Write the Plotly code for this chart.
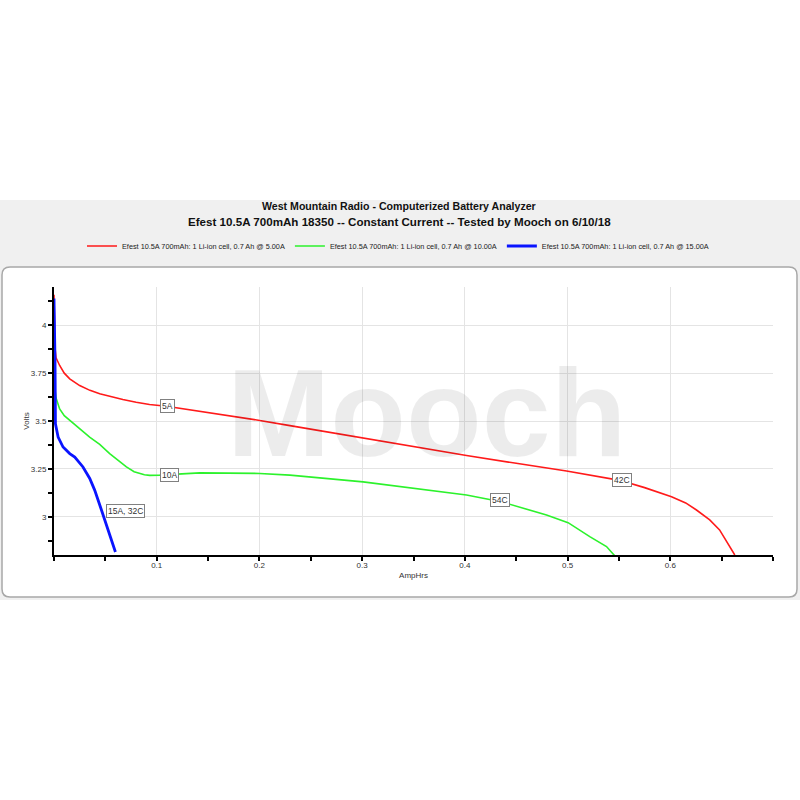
import plotly.graph_objects as go

# ---------------- data ----------------
red_x = [0, 0.0004, 0.001, 0.002, 0.0055, 0.0100, 0.0153, 0.025, 0.035, 0.0445, 0.055,
         0.067, 0.08, 0.093, 0.1094, 0.1419, 0.2003, 0.2297, 0.3009, 0.35, 0.4016, 0.45,
         0.499, 0.5509, 0.575, 0.6012, 0.615, 0.6255, 0.6384, 0.648, 0.6628]
red_y = [4.16, 4.00, 3.88, 3.83, 3.79, 3.75, 3.72, 3.685, 3.66, 3.642, 3.627,
         3.612, 3.598, 3.586, 3.577, 3.551, 3.503, 3.476, 3.41, 3.366, 3.32, 3.279,
         3.239, 3.19, 3.152, 3.104, 3.072, 3.035, 2.983, 2.931, 2.80]

green_x = [0, 0.0005, 0.001, 0.002, 0.0055, 0.010, 0.0153, 0.0347, 0.0445, 0.0542, 0.0705,
           0.078, 0.088, 0.0932, 0.103, 0.1419, 0.2003, 0.2297, 0.3009, 0.35, 0.4016,
           0.424, 0.4405, 0.4795, 0.5005, 0.5216, 0.5379, 0.5459]
green_y = [4.12, 3.80, 3.66, 3.62, 3.563, 3.528, 3.503, 3.416, 3.378, 3.33, 3.26,
           3.235, 3.219, 3.216, 3.217, 3.229, 3.226, 3.217, 3.182, 3.15, 3.113,
           3.09, 3.07, 3.009, 2.969, 2.896, 2.844, 2.796]

blue_x = [0, 0.0005, 0.001, 0.0014, 0.004, 0.0088, 0.0153, 0.0202, 0.0282, 0.0348,
          0.0396, 0.0462, 0.0526, 0.0598]
blue_y = [4.14, 4.0, 3.81, 3.485, 3.416, 3.364, 3.33, 3.312, 3.26, 3.20,
          3.139, 3.035, 2.931, 2.816]

series_names = [
    "Efest 10.5A 700mAh: 1 Li-ion cell, 0.7 Ah @ 5.00A",
    "Efest 10.5A 700mAh: 1 Li-ion cell, 0.7 Ah @ 10.00A",
    "Efest 10.5A 700mAh: 1 Li-ion cell, 0.7 Ah @ 15.00A",
]

label_text = ["5A", "10A", "15A, 32C", "54C", "42C"]
label_x = [0.103, 0.103, 0.0506, 0.4245, 0.5437]
label_y = [3.577, 3.217, 3.028, 3.089, 3.192]

x_tickvals = [0.1, 0.2, 0.3, 0.4, 0.5, 0.6]
x_ticktext = ["0.1", "0.2", "0.3", "0.4", "0.5", "0.6"]
y_tickvals = [3, 3.25, 3.5, 3.75, 4]
y_ticktext = ["3", "3.25", "3.5", "3.75", "4"]

title1 = "West Mountain Radio - Computerized Battery Analyzer"
title2 = "Efest 10.5A 700mAh 18350 -- Constant Current -- Tested by Mooch on 6/10/18"

# ---------------- layout helpers ----------------
W, H = 800, 800
ML, MR, MT, MB = 54, 27, 287, 245
PW = W - ML - MR
PH = H - MT - MB
SX0 = ML
SY0 = H - MB

def px(p):
    return (p - SX0) / PW

def py(p):
    return (SY0 - p) / PH

FONT = "Liberation Sans, Arial, sans-serif"

fig = go.Figure()
fig.add_trace(go.Scatter(x=red_x, y=red_y, mode="lines", name=series_names[0],
                         line=dict(color="#ff1a1a", width=1.6)))
fig.add_trace(go.Scatter(x=green_x, y=green_y, mode="lines", name=series_names[1],
                         line=dict(color="#2cf22c", width=1.6)))
fig.add_trace(go.Scatter(x=blue_x, y=blue_y, mode="lines", name=series_names[2],
                         line=dict(color="#0a14ff", width=2.8)))

# background band and rounded panel
r = 8
L, R, T, B = 2, 797, 267, 597
path = (f"M {px(L + r)} {py(T)} L {px(R - r)} {py(T)} Q {px(R)} {py(T)} {px(R)} {py(T + r)} "
        f"L {px(R)} {py(B - r)} Q {px(R)} {py(B)} {px(R - r)} {py(B)} "
        f"L {px(L + r)} {py(B)} Q {px(L)} {py(B)} {px(L)} {py(B - r)} "
        f"L {px(L)} {py(T + r)} Q {px(L)} {py(T)} {px(L + r)} {py(T)} Z")
shapes = [
    dict(type="rect", xref="paper", yref="paper", x0=px(-2), x1=px(802), y0=py(200), y1=py(600),
         fillcolor="#f0f0f0", line=dict(width=0), layer="below"),
    dict(type="path", xref="paper", yref="paper", path=path, fillcolor="white",
         line=dict(color="#a8a8a8", width=1.5), layer="below"),
]

annotations = [
    dict(text="<b>Mooch</b>", x=px(427), y=py(413), xref="paper", yref="paper", showarrow=False,
         font=dict(family="Liberation Sans, Arial", size=124, color="rgba(0,0,0,0.075)"),
         xanchor="center", yanchor="middle"),
    dict(text="<b>" + title1 + "</b>", x=px(399), y=py(206), xref="paper", yref="paper",
         showarrow=False, font=dict(family=FONT, size=10.6, color="#111"),
         xanchor="center", yanchor="middle"),
    dict(text="<b>" + title2 + "</b>", x=px(399), y=py(221), xref="paper", yref="paper",
         showarrow=False, font=dict(family=FONT, size=11.6, color="#111"),
         xanchor="center", yanchor="middle"),
]
for t, xx, yy in zip(label_text, label_x, label_y):
    annotations.append(dict(text=t, x=xx, y=yy, xref="x", yref="y", showarrow=False,
                            xanchor="left", yanchor="middle",
                            font=dict(family=FONT, size=8.5, color="#333"),
                            bgcolor="white", bordercolor="#808080", borderwidth=1, borderpad=1))

fig.update_layout(
    width=W, height=H,
    margin=dict(l=ML, r=MR, t=MT, b=MB),
    paper_bgcolor="white",
    plot_bgcolor="rgba(0,0,0,0)",
    font=dict(family=FONT, size=8, color="#333"),
    showlegend=True,
    legend=dict(orientation="h", x=px(398), y=py(246), xanchor="center", yanchor="middle",
                font=dict(family=FONT, size=7.3, color="#222"), bgcolor="rgba(0,0,0,0)",
                itemwidth=30, tracegroupgap=0),
    shapes=shapes,
    annotations=annotations,
)

fig.update_xaxes(range=[0, 0.7], tickmode="array", tickvals=x_tickvals, ticktext=x_ticktext,
                 showline=True, linecolor="black", linewidth=2, mirror=False,
                 ticks="outside", ticklen=4, tickwidth=1.5, tickcolor="black",
                 ticklabelstandoff=-3,
                 tickfont=dict(size=8, color="#333"),
                 showgrid=True, gridcolor="#e4e4e4", gridwidth=1, zeroline=False,
                 minor=dict(tickmode="linear", tick0=0, dtick=0.05, ticks="outside", ticklen=4,
                            tickwidth=1.5, tickcolor="black", showgrid=False),
                 title=dict(text="AmpHrs", font=dict(size=8, color="#333"), standoff=4))
fig.update_yaxes(range=[2.8, 4.2], tickmode="array", tickvals=y_tickvals, ticktext=y_ticktext,
                 showline=True, linecolor="black", linewidth=2, mirror=False,
                 ticks="outside", ticklen=4, tickwidth=1.5, tickcolor="black",
                 tickfont=dict(size=8, color="#333"),
                 showgrid=True, gridcolor="#e4e4e4", gridwidth=1, zeroline=False,
                 minor=dict(tickmode="linear", tick0=2.875, dtick=0.125, ticks="outside", ticklen=4,
                            tickwidth=1.5, tickcolor="black", showgrid=False),
                 title=dict(text="Volts", font=dict(size=8, color="#333"), standoff=0))

# remove the default 8px page margin so the figure fills the 800x800 window exactly
fig.write_html("out.html", config={"displayModeBar": False},
               post_script="document.body.style.margin='0';")
